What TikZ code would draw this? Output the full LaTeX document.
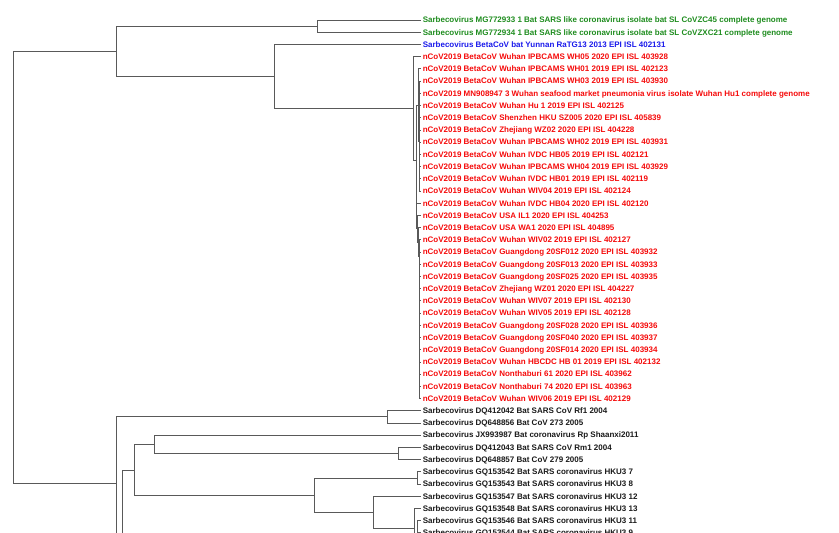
\documentclass[tikz,border=0pt]{standalone}
\usepackage{fontspec}
\setmainfont{Liberation Sans}
\definecolor{grn}{RGB}{30,140,30}
\definecolor{blu}{RGB}{25,25,235}
\definecolor{rd}{RGB}{245,10,10}
\definecolor{blk}{RGB}{25,25,25}
\tikzset{
    branch/.style={draw=black!65, line width=0.75pt}, % tree edges
    leaf/.style={anchor=west, inner xsep=1.6pt, inner ysep=0pt, text height=5.7pt, text depth=0pt,
        font=\bfseries\fontsize{8}{9}\selectfont}, % tip labels
}
\begin{document}
\begin{tikzpicture}[x=1pt, y=-1pt]
\useasboundingbox (0,0) rectangle (839,533);
% tips, top to bottom
\foreach \c/\t [count=\i] in {
    grn/Sarbecovirus MG772933 1 Bat SARS like coronavirus isolate bat SL CoVZC45 complete genome,
    grn/Sarbecovirus MG772934 1 Bat SARS like coronavirus isolate bat SL CoVZXC21 complete genome,
    blu/Sarbecovirus BetaCoV bat Yunnan RaTG13 2013 EPI ISL 402131,
    rd/nCoV2019 BetaCoV Wuhan IPBCAMS WH05 2020 EPI ISL 403928,
    rd/nCoV2019 BetaCoV Wuhan IPBCAMS WH01 2019 EPI ISL 402123,
    rd/nCoV2019 BetaCoV Wuhan IPBCAMS WH03 2019 EPI ISL 403930,
    rd/nCoV2019 MN908947 3 Wuhan seafood market pneumonia virus isolate Wuhan Hu1 complete genome,
    rd/nCoV2019 BetaCoV Wuhan Hu 1 2019 EPI ISL 402125,
    rd/nCoV2019 BetaCoV Shenzhen HKU SZ005 2020 EPI ISL 405839,
    rd/nCoV2019 BetaCoV Zhejiang WZ02 2020 EPI ISL 404228,
    rd/nCoV2019 BetaCoV Wuhan IPBCAMS WH02 2019 EPI ISL 403931,
    rd/nCoV2019 BetaCoV Wuhan IVDC HB05 2019 EPI ISL 402121,
    rd/nCoV2019 BetaCoV Wuhan IPBCAMS WH04 2019 EPI ISL 403929,
    rd/nCoV2019 BetaCoV Wuhan IVDC HB01 2019 EPI ISL 402119,
    rd/nCoV2019 BetaCoV Wuhan WIV04 2019 EPI ISL 402124,
    rd/nCoV2019 BetaCoV Wuhan IVDC HB04 2020 EPI ISL 402120,
    rd/nCoV2019 BetaCoV USA IL1 2020 EPI ISL 404253,
    rd/nCoV2019 BetaCoV USA WA1 2020 EPI ISL 404895,
    rd/nCoV2019 BetaCoV Wuhan WIV02 2019 EPI ISL 402127,
    rd/nCoV2019 BetaCoV Guangdong 20SF012 2020 EPI ISL 403932,
    rd/nCoV2019 BetaCoV Guangdong 20SF013 2020 EPI ISL 403933,
    rd/nCoV2019 BetaCoV Guangdong 20SF025 2020 EPI ISL 403935,
    rd/nCoV2019 BetaCoV Zhejiang WZ01 2020 EPI ISL 404227,
    rd/nCoV2019 BetaCoV Wuhan WIV07 2019 EPI ISL 402130,
    rd/nCoV2019 BetaCoV Wuhan WIV05 2019 EPI ISL 402128,
    rd/nCoV2019 BetaCoV Guangdong 20SF028 2020 EPI ISL 403936,
    rd/nCoV2019 BetaCoV Guangdong 20SF040 2020 EPI ISL 403937,
    rd/nCoV2019 BetaCoV Guangdong 20SF014 2020 EPI ISL 403934,
    rd/nCoV2019 BetaCoV Wuhan HBCDC HB 01 2019 EPI ISL 402132,
    rd/nCoV2019 BetaCoV Nonthaburi 61 2020 EPI ISL 403962,
    rd/nCoV2019 BetaCoV Nonthaburi 74 2020 EPI ISL 403963,
    rd/nCoV2019 BetaCoV Wuhan WIV06 2019 EPI ISL 402129,
    blk/Sarbecovirus DQ412042 Bat SARS CoV Rf1 2004,
    blk/Sarbecovirus DQ648856 Bat CoV 273 2005,
    blk/Sarbecovirus JX993987 Bat coronavirus Rp Shaanxi2011,
    blk/Sarbecovirus DQ412043 Bat SARS CoV Rm1 2004,
    blk/Sarbecovirus DQ648857 Bat CoV 279 2005,
    blk/Sarbecovirus GQ153542 Bat SARS coronavirus HKU3 7,
    blk/Sarbecovirus GQ153543 Bat SARS coronavirus HKU3 8,
    blk/Sarbecovirus GQ153547 Bat SARS coronavirus HKU3 12,
    blk/Sarbecovirus GQ153548 Bat SARS coronavirus HKU3 13,
    blk/Sarbecovirus GQ153546 Bat SARS coronavirus HKU3 11,
    blk/Sarbecovirus GQ153544 Bat SARS coronavirus HKU3 9}
    \node[leaf, text=\c] (l\i) at (421, {20+12.21*(\i-1)}) {\t};
% inner nodes
\coordinate (root) at (13.3, 267.5);
\coordinate (up) at (116.3, 51.7);
\coordinate (low) at (116.3, 483.3);
\coordinate (zc) at (317, 26.1);
\coordinate (rat) at (274.3, 76.5);
\coordinate (nc) at (413.3, 108.5);
\coordinate (nca) at (416.3, 160.4);
\coordinate (ncb) at (418.3, 105.2);
\coordinate (ncd) at (419.3, 141.5);
\coordinate (ncc) at (416.8, 216);
\coordinate (nce) at (417.6, 228.8);
\coordinate (ncf) at (418.4, 242.2);
\coordinate (ncg) at (419.3, 256.8);
\coordinate (dqa) at (387.7, 416.8);
\coordinate (lb) at (122, 549.6);
\coordinate (lc) at (134.7, 470);
\coordinate (ld) at (154.3, 444);
\coordinate (dqb) at (398.3, 453.4);
\coordinate (le) at (314.3, 495.2);
\coordinate (hka) at (417.3, 477.9);
\coordinate (lf) at (373.3, 512.7);
\coordinate (lg) at (414.3, 528);
\coordinate (hkb) at (417.3, 547.6);
% upper clade
\draw[branch] (root) |- (up) (root) |- (low);
\draw[branch] (up) |- (zc) (up) |- (rat);
\draw[branch] (zc) |- (l1.west) (zc) |- (l2.west);
\draw[branch] (rat) |- (l3.west) (rat) |- (nc);
\draw[branch] (nc) |- (l4.west) (nc) |- (nca);
\draw[branch] (nca) |- (ncb) (nca) |- (ncc);
\draw[branch] (ncb) |- (l5.west) (ncb) |- (ncd);
\foreach \i in {6,...,15} \draw[branch] (ncd) |- (l\i.west);
\draw[branch] (ncc) |- (l16.west) (ncc) |- (nce);
\draw[branch] (nce) |- (l17.west) (nce) |- (ncf);
\draw[branch] (ncf) |- (l18.west) (ncf) |- (ncg);
\foreach \i in {19,...,32} \draw[branch] (ncg) |- (l\i.west);
% lower clade
\draw[branch] (low) |- (dqa) (low) |- (lb);
\draw[branch] (dqa) |- (l33.west) (dqa) |- (l34.west);
\draw[branch] (lb) |- (lc);
\draw[branch] (lc) |- (ld) (lc) |- (le);
\draw[branch] (ld) |- (l35.west) (ld) |- (dqb);
\draw[branch] (dqb) |- (l36.west) (dqb) |- (l37.west);
\draw[branch] (le) |- (hka) (le) |- (lf);
\draw[branch] (hka) |- (l38.west) (hka) |- (l39.west);
\draw[branch] (lf) |- (l40.west) (lf) |- (lg);
\draw[branch] (lg) |- (l41.west) (lg) |- (hkb);
\draw[branch] (hkb) |- (l42.west) (hkb) |- (l43.west);
\end{tikzpicture}
\end{document}
